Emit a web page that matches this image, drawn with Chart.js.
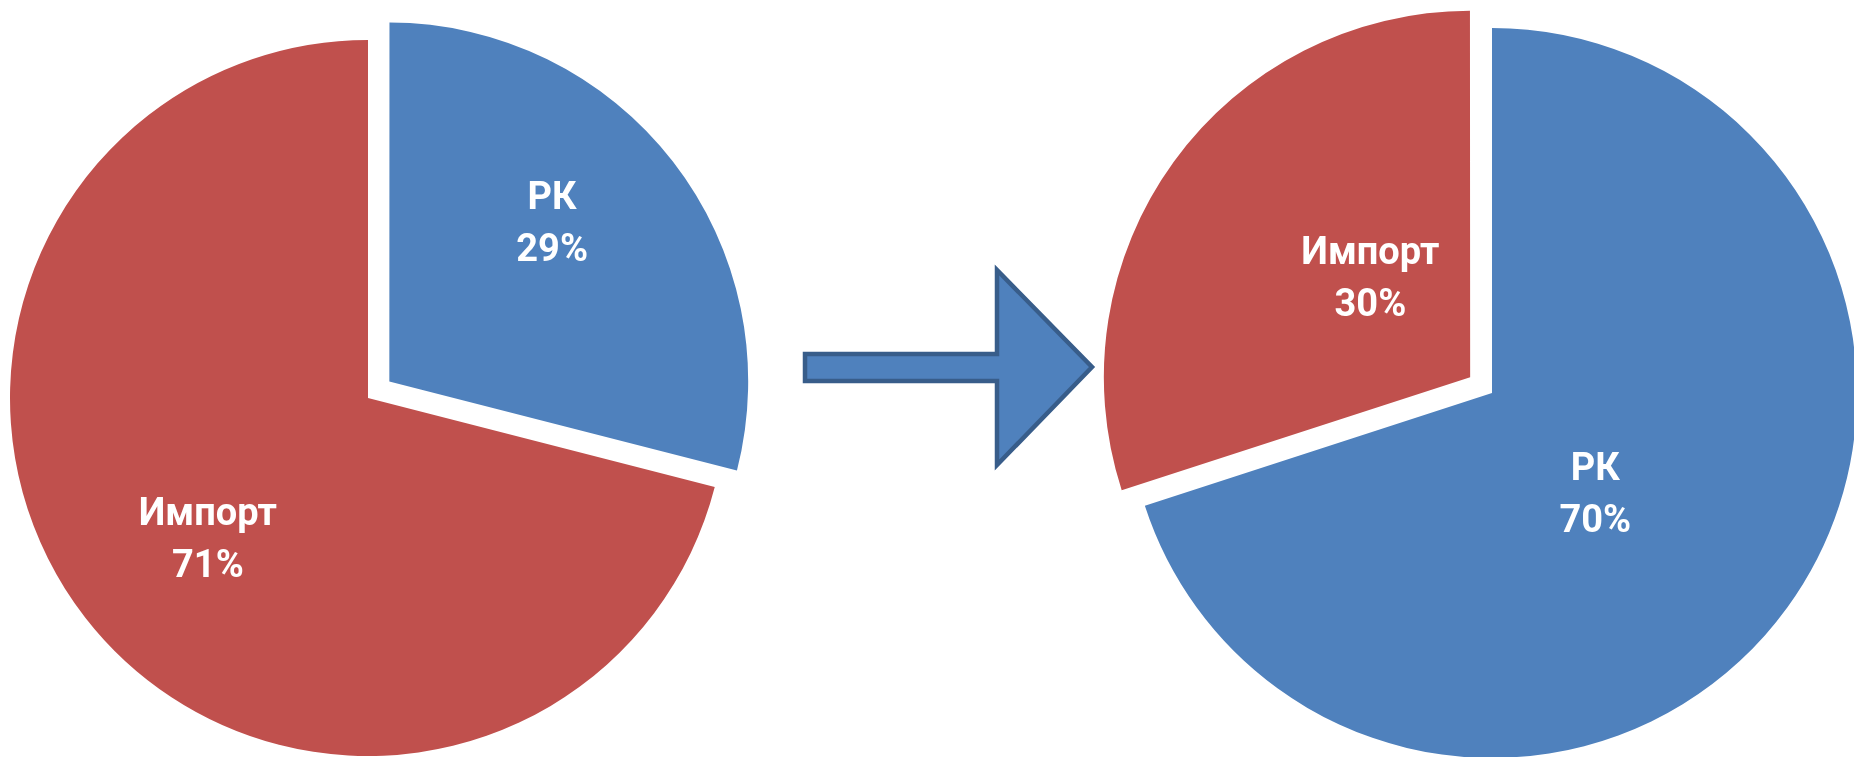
<!DOCTYPE html>
<html>
<head>
<meta charset="utf-8">
<script src="https://cdn.jsdelivr.net/npm/chart.js@4.4.1/dist/chart.umd.min.js"></script>
<style>
  html, body { margin: 0; padding: 0; background: #fff; overflow: hidden; }
  body { width: 1854px; height: 757px; position: relative; }
  canvas, svg { position: absolute; }
  #before { left: -32px; top: 0; }
  #after { left: 1092px; top: 0; }
  #arrow { left: 0; top: 0; }
</style>
</head>
<body>
<canvas id="before" width="800" height="796"></canvas>
<svg id="arrow" width="1854" height="757">
  <polygon points="805,354 997,354 997,270 1092,367 997,465 997,381 805,381"
           fill="#4f81bd" stroke="#385d8a" stroke-width="4.5" stroke-linejoin="miter"/>
</svg>
<canvas id="after" width="800" height="786"></canvas>
<script>
const categories = ['РК', 'Импорт']
const sharesBefore = [29, 71]
const sharesAfter = [70, 30]
const sliceColors = ['#4f81bd', '#c0504d']

// writes "name / NN%" inside every slice
const sliceLabels = {
    id: 'sliceLabels',
    afterDatasetsDraw(chart, args, opts) {
        const ctx = chart.ctx
        const meta = chart.getDatasetMeta(0)
        const values = chart.data.datasets[0].data
        ctx.save()
        ctx.fillStyle = '#fff'
        ctx.font = 'bold 38px Roboto, "Liberation Sans", sans-serif'
        ctx.textAlign = 'center'
        ctx.textBaseline = 'middle'
        meta.data.forEach((arc, i) => {
            const p = arc.getProps(['x', 'y', 'startAngle', 'endAngle', 'outerRadius'], true)
            const mid = (p.startAngle + p.endAngle) / 2
            const shift = (arc.options.offset || 0) / 4
            const cx = p.x + Math.cos(mid) * shift
            const cy = p.y + Math.sin(mid) * shift
            const a = mid + opts.angle[i] * Math.PI / 180
            const r = opts.dist[i] * p.outerRadius
            const lx = cx + Math.cos(a) * r
            const ly = cy + Math.sin(a) * r
            ctx.fillText(chart.data.labels[i], lx, ly - 26)
            ctx.fillText(values[i] + '%', lx, ly + 26)
        })
        ctx.restore()
    },
}

function makePie(id, values, radius, offsets, labelDist, labelAngle) {
    return new Chart(document.getElementById(id), {
        type: 'pie',
        data: {
            labels: categories,
            datasets: [
                {
                    data: values,
                    backgroundColor: sliceColors,
                    borderWidth: 0,
                    offset: offsets,
                },
            ],
        },
        options: {
            responsive: false,
            animation: false,
            events: [],
            radius: radius,
            layout: { padding: 0 },
            plugins: {
                legend: { display: false },
                tooltip: { enabled: false },
                sliceLabels: { dist: labelDist, angle: labelAngle },
            },
        },
        plugins: [sliceLabels],
    })
}

window.pieBefore = makePie('before', sharesBefore, 358, [108, 0], [0.63, 0.6], [-6, -4])
window.pieAfter = makePie('after', sharesAfter, 365, [0, 108], [0.4, 0.38], [9, 8])
</script>
</body>
</html>
